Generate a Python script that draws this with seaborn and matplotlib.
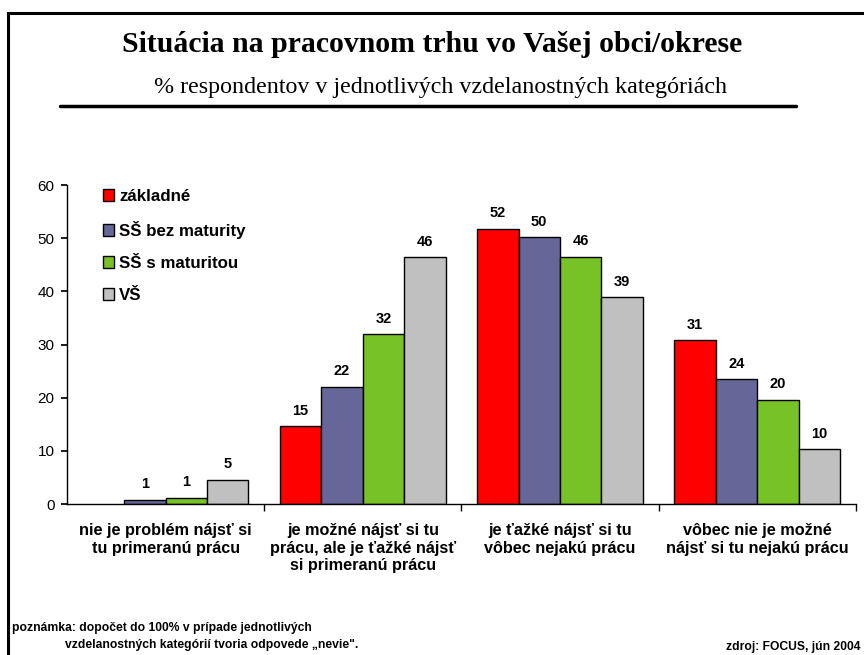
import numpy as np
import pandas as pd
import seaborn as sns
import matplotlib.pyplot as plt
from matplotlib.patches import Rectangle
from matplotlib.lines import Line2D

# data
categories = [
    "nie je problém nájsť si\ntu primeranú prácu",
    "je možné nájsť si tu\nprácu, ale je ťažké nájsť\nsi primeranú prácu",
    "je ťažké nájsť si tu\nvôbec nejakú prácu",
    "vôbec nie je možné\nnájsť si tu nejakú prácu",
]
groups = ["základné", "SŠ bez maturity", "SŠ s maturitou", "VŠ"]
zakladne = [np.nan, 14.6, 51.8, 30.8]
ss_bez = [0.8, 22.1, 50.2, 23.5]
ss_s = [1.2, 31.9, 46.5, 19.6]
vs = [4.6, 46.4, 38.9, 10.3]
colors = ["#FF0000", "#666699", "#77C226", "#C0C0C0"]

rows = []
for g, vals in zip(groups, [zakladne, ss_bez, ss_s, vs]):
    for c, v in zip(categories, vals):
        rows.append((c, g, v))
df = pd.DataFrame(rows, columns=["kategoria", "vzdelanie", "pct"])

sns.set_theme(style="white")
plt.rcParams["font.family"] = ["Liberation Sans", "DejaVu Sans"]
plt.rcParams.update({"text.color": "black", "axes.labelcolor": "black",
                     "xtick.color": "black", "ytick.color": "black"})

fig = plt.figure(figsize=(8.64, 6.55), dpi=100)
ax = fig.add_axes([0.0775, 0.2305, 0.913, 0.487])

sns.barplot(data=df, x="kategoria", y="pct", hue="vzdelanie", order=categories,
            hue_order=groups, palette=colors, edgecolor="black", linewidth=1,
            width=0.84, gap=0, saturation=1, ax=ax)

for cont in ax.containers:
    labels = [f"{h:.0f}" if np.isfinite(h) and h > 0 else "" for h in cont.datavalues]
    ax.bar_label(cont, labels=labels, padding=6, fontsize=10.5, fontweight="bold")

ax.set_ylim(0, 60)
ax.set_xlim(-0.5, 3.5)
ax.set_yticks(range(0, 61, 10))
ax.set_xlabel("")
ax.set_ylabel("")
ax.tick_params(axis="y", labelsize=11, length=4, direction="out", left=True, pad=5)
ax.tick_params(axis="x", which="major", length=0, pad=14)
ax.set_xticks([0.5, 1.5, 2.5, 3.5], minor=True)
ax.tick_params(axis="x", which="minor", length=5, direction="out", bottom=True)
for lab in ax.get_xticklabels():
    lab.set_fontweight("bold")
    lab.set_fontsize(11.7)
for s in ["top", "right"]:
    ax.spines[s].set_visible(False)
for s in ["left", "bottom"]:
    ax.spines[s].set_color("black")
    ax.spines[s].set_linewidth(1)

leg = ax.legend(loc="upper left", bbox_to_anchor=(0.026, 1.035), frameon=False,
                handlelength=0.68, handleheight=0.68, handletextpad=0.3,
                labelspacing=1.0, prop={"weight": "bold", "size": 12.2})

# frame and headings
fig.patches.append(Rectangle((8 / 864, -0.1), 1.2, 1 - 13 / 655 + 0.1, transform=fig.transFigure,
                             fill=False, edgecolor="black", linewidth=2.2, zorder=5))
fig.text(432 / 864, 1 - 45 / 655, "Situácia na pracovnom trhu vo Vašej obci/okrese",
         ha="center", va="center", fontsize=21.4, fontweight="bold", family="Liberation Serif")
fig.text(440 / 864, 1 - 88 / 655, "% respondentov v jednotlivých vzdelanostných kategóriách",
         ha="center", va="center", fontsize=17.3, family="Liberation Serif")
fig.add_artist(Line2D([60 / 864, 796 / 864], [1 - 106 / 655] * 2, color="black",
                      linewidth=2.5, transform=fig.transFigure))

fig.text(12 / 864, 1 - 628 / 655, "poznámka: dopočet do 100% v prípade jednotlivých",
         ha="left", va="center", fontsize=8.7, fontweight="bold")
fig.text(65 / 864, 1 - 645 / 655, "vzdelanostných kategórií tvoria odpovede „nevie\".",
         ha="left", va="center", fontsize=8.7, fontweight="bold")
fig.text(860 / 864, 1 - 647 / 655, "zdroj: FOCUS, jún 2004",
         ha="right", va="center", fontsize=8.7, fontweight="bold")

fig.savefig("out.png", dpi=100)
